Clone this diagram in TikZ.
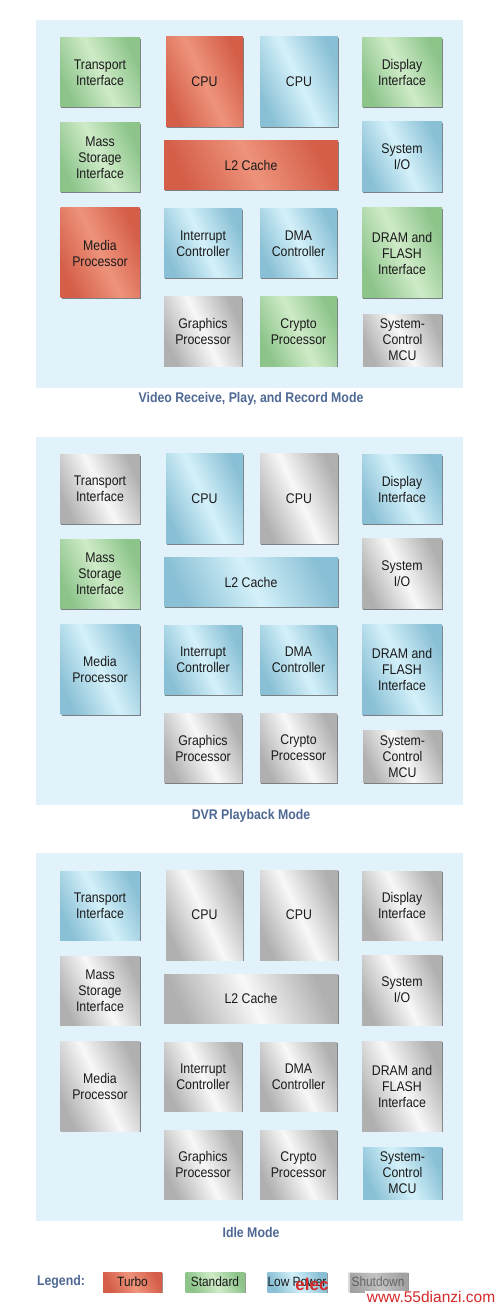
\documentclass[tikz,border=0pt]{standalone}
\usepackage{fontspec}
\setmainfont{Liberation Sans}[FakeStretch=0.88]
\newfontfamily\wmfont{Liberation Sans}
\usetikzlibrary{shadows}
\definecolor{redD}{HTML}{D45E48}
\definecolor{redL}{HTML}{EE937B}
\definecolor{grnD}{HTML}{8CC48A}
\definecolor{grnL}{HTML}{CFEBC8}
\definecolor{bluD}{HTML}{8AC0D5}
\definecolor{bluL}{HTML}{D4F1FA}
\definecolor{gryD}{HTML}{B0B0B0}
\definecolor{gryL}{HTML}{F8F8F8}
\definecolor{panelc}{HTML}{E2F2FB}
\definecolor{titlec}{HTML}{4F6994}
\definecolor{txtc}{HTML}{1A1A1A}
\definecolor{wmc}{HTML}{D42A2A}
\tikzset{
  blk/.style={rectangle, inner sep=0pt, align=center, text=txtc,
    font=\fontsize{14}{16}\selectfont,
    drop shadow={shadow xshift=1.3pt, shadow yshift=-1.3pt, opacity=0.6, fill=black!80}},
  turbo/.style={left color=redD, right color=redD, middle color=redL, shading angle=115},
  standard/.style={left color=grnD, right color=grnD, middle color=grnL, shading angle=115},
  lowpow/.style={left color=bluD, right color=bluD, middle color=bluL, shading angle=115},
  shutdn/.style={left color=gryD, right color=gryD, middle color=gryL, shading angle=115},
  panelbox/.style={rectangle, fill=panelc, draw=none, minimum width=427pt, minimum height=368pt, inner sep=0pt},
  modetitle/.style={text=titlec, font=\bfseries\fontsize{14}{16}\selectfont},
  lbox/.style={rectangle, inner sep=0pt, minimum width=59pt, minimum height=20pt, text=txtc,
    font=\fontsize{13.5}{14}\selectfont,
    drop shadow={shadow xshift=1pt, shadow yshift=-1pt, opacity=0.5, fill=black!80}},
  wmark/.style={text=wmc, inner sep=0pt}
}
\newcommand\panelbody[1]{%
  \node[panelbox] (bg) at (249.5,204) {};
  \node[blk,sTR,minimum width=80pt,minimum height=69pt] (tr) at (100,72.5) {Transport\\Interface};
  \node[blk,sCA,minimum width=77pt,minimum height=90pt] (cpua) at (204.5,82) {CPU};
  \node[blk,sCB,minimum width=78pt,minimum height=90pt] (cpub) at (299,82) {CPU};
  \node[blk,sDI,minimum width=80pt,minimum height=69pt] (disp) at (402,72.5) {Display\\Interface};
  \node[blk,sMS,minimum width=80pt,minimum height=69pt] (mass) at (100,157.5) {Mass\\Storage\\Interface};
  \node[blk,sL2,minimum width=174pt,minimum height=49pt] (l2) at (251,165.5) {L2 Cache};
  \node[blk,sIO,minimum width=80pt,minimum height=70pt] (sio) at (402,157) {System\\I/O};
  \node[blk,sMP,minimum width=79pt,minimum height=90pt] (media) at (100,253) {Media\\Processor};
  \node[blk,sIC,minimum width=78pt,minimum height=69pt] (intr) at (203,243.5) {Interrupt\\Controller};
  \node[blk,sDM,minimum width=77pt,minimum height=69pt] (dma) at (298.5,243.5) {DMA\\Controller};
  \node[blk,sDR,minimum width=80pt,minimum height=90pt] (dram) at (402,253) {DRAM and\\FLASH\\Interface};
  \node[blk,sGP,minimum width=78pt,minimum height=69pt] (gfx) at (203,331.5) {Graphics\\Processor};
  \node[blk,sCP,minimum width=77pt,minimum height=69pt] (cry) at (298.5,331.5) {Crypto\\Processor};
  \node[blk,sMC,minimum width=79pt,minimum height=52pt] (mcu) at (402.5,340) {System-\\Control\\MCU};
  \node[modetitle] (ttl) at (251,399) {#1};
}
\begin{document}
\begin{tikzpicture}[x=1pt,y=-1pt]
\useasboundingbox (0,0) rectangle (500,1305);
\fill[white] (0,0) rectangle (500,1305);
\begin{scope}[name prefix=a-,
  sTR/.style=standard, sCA/.style=turbo, sCB/.style=lowpow, sDI/.style=standard,
  sMS/.style=standard, sL2/.style=turbo, sIO/.style=lowpow, sMP/.style=turbo,
  sIC/.style=lowpow, sDM/.style=lowpow, sDR/.style=standard, sGP/.style=shutdn,
  sCP/.style=standard, sMC/.style=shutdn]
  \panelbody{Video Receive, Play, and Record Mode}
\end{scope}
\begin{scope}[shift={(0,416.5)}, name prefix=b-,
  sTR/.style=shutdn, sCA/.style=lowpow, sCB/.style=shutdn, sDI/.style=lowpow,
  sMS/.style=standard, sL2/.style=lowpow, sIO/.style=shutdn, sMP/.style=lowpow,
  sIC/.style=lowpow, sDM/.style=lowpow, sDR/.style=lowpow, sGP/.style=shutdn,
  sCP/.style=shutdn, sMC/.style=shutdn]
  \panelbody{DVR Playback Mode}
\end{scope}
\begin{scope}[shift={(0,833)}, name prefix=c-,
  sTR/.style=lowpow, sCA/.style=shutdn, sCB/.style=shutdn, sDI/.style=shutdn,
  sMS/.style=shutdn, sL2/.style=shutdn, sIO/.style=shutdn, sMP/.style=shutdn,
  sIC/.style=shutdn, sDM/.style=shutdn, sDR/.style=shutdn, sGP/.style=shutdn,
  sCP/.style=shutdn, sMC/.style=lowpow]
  \panelbody{Idle Mode}
\end{scope}
% legend
\node[modetitle] (lg) at (61,1282) {Legend:};
\node[lbox,turbo] (lt) at (132.5,1282) {Turbo};
\node[lbox,standard] (ls) at (215,1282) {Standard};
\node[lbox,lowpow] (ll) at (297,1282) {Low Power};
\node[lbox,shutdn,opacity=0.45,text opacity=0.5] (lsd) at (378,1282) {Shutdown};
\node[wmark,font=\wmfont\bfseries\fontsize{17}{17}\selectfont] (el) at (312,1284) {elec};
\node[wmark,fill=white,inner xsep=2pt,font=\wmfont\fontsize{15.5}{16}\selectfont] (www) at (431,1297) {www.55dianzi.com};
\end{tikzpicture}
\end{document}
